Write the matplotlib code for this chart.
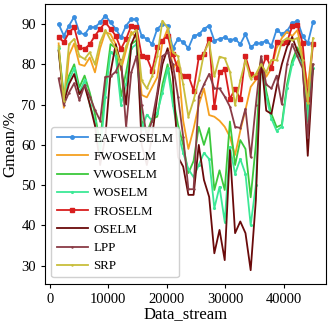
import matplotlib
matplotlib.use("Agg")
import matplotlib.pyplot as plt

plt.rcParams['font.family'] = ['Liberation Serif', 'DejaVu Serif']

x_stream = [1500 + 887 * i for i in range(50)]

eafwoselm = [90, 87.1, 89.6, 91.8, 87.9, 87.4, 89.2, 89.2, 90.4, 92.1,
             90.4, 88.8, 86.7, 89.6, 91.2, 91.2, 87, 86.3, 85, 88.8,
             90, 89.6, 84, 86.3, 85.5, 84, 87.1, 87.4, 88.8, 89.6,
             85.9, 86.3, 86.7, 86, 86.3, 85, 87.5, 84.2, 85.2, 85.2,
             85.9, 84.6, 88.6, 87.5, 88.3, 90.2, 90.8, 87.1, 85.2, 90.4]
fwoselm = [85.2, 69.2, 82.3, 85.2, 80, 79.6, 81.7, 78, 84, 88,
           87.5, 85, 78.6, 83.5, 88.1, 86.5, 72.4, 71.8, 74.3, 76.8,
           85.5, 88.8, 78.8, 80.9, 66, 59, 64, 70, 74, 67.4,
           67, 66, 64.5, 62, 57.5, 63.5, 68.7, 74.4, 76.1, 80.7,
           76.9, 79, 84, 86.5, 88.1, 87, 88.5, 82.3, 74.4, 85.2]
vwoselm = [83.5, 71.8, 77.2, 80, 74.3, 77.2, 73, 67.7, 60, 75,
           85, 84, 72, 78, 85, 86, 66, 63, 66.5, 67,
           75, 80, 72, 65, 60, 53, 56, 64.5, 60, 64.2,
           48.8, 53.7, 48.8, 65.8, 55, 61.2, 59, 47, 60, 81.8,
           73.4, 67.7, 64.4, 65, 75, 80.9, 84.2, 81.3, 67.7, 80]
woselm = [84, 72.5, 76, 79, 73, 76, 70, 66, 58, 72,
          83, 82, 70, 75, 84, 85, 64, 67.5, 66, 68,
          73, 79, 70, 63, 58, 54, 52, 55, 58, 56.5,
          44.3, 49.6, 40.9, 59.5, 52.8, 56.5, 52.8, 40.1, 50, 80,
          72, 66.5, 63.5, 64.5, 74, 80, 83, 80, 66, 79]
froselm = [86.7, 85.5, 87.9, 89.2, 84.2, 83.8, 85.0, 87.1, 88.8, 90.4,
           88.8, 87.1, 83.8, 86.3, 89.6, 89.2, 82.1, 81.7, 78.4, 84.2,
           85.9, 87.1, 82.6, 78.8, 77.1, 77.2, 73.5, 81.7, 82.6, 86.3,
           69.3, 78.0, 78.8, 71.4, 73.9, 71.4, 82.0, 77.6, 76.8, 78.6,
           81.9, 79.0, 85.6, 85.4, 85.6, 89.4, 89.8, 85.3, 71.5, 85.0]
oselm = [83.4, 70.6, 75.1, 77.6, 72.6, 74.7, 70.1, 64.8, 55, 62,
         78, 85, 80, 70, 85, 88, 60, 55, 62, 72,
         80, 84, 77, 57, 54.6, 47.6, 47.6, 60, 51.3, 47.1,
         33.1, 38.9, 31.4, 58.7, 38.1, 41, 38.1, 28.9, 46.3, 81.8,
         68.5, 67.7, 74.4, 80, 84.3, 86.8, 83.3, 80.8, 57.3, 78.8]
lpp = [76.5, 70, 73, 75.3, 71.1, 74.9, 72, 68.7, 66, 76.9,
       77, 78.2, 81.1, 64.4, 78, 82, 70, 62, 66, 73,
       82, 83, 80, 72, 62, 49, 49, 72, 75, 77.6,
       74, 74, 72, 69.5, 64.5, 64.2, 69, 57, 70, 82,
       75, 74, 77.2, 70.1, 80, 85, 82, 79, 62, 80]
srp = [84.5, 71, 85, 86.3, 82.1, 81.3, 83, 80, 85.5, 88.5,
       86, 84, 80, 84.5, 87.5, 88.5, 76, 74, 77, 82,
       90.8, 89, 83, 82, 75, 67, 71.1, 76.1, 82.7, 85.6,
       77, 81.9, 81.5, 78.2, 69.9, 76, 81, 76.4, 77.6, 80,
       78, 81.1, 81, 85.6, 86.5, 86, 86.5, 81, 70.3, 86.5]

series = [
    ("EAFWOSELM", eafwoselm, "#3a8ee0", "o", 2.5),
    ("FWOSELM", fwoselm, "#f5a020", None, 0),
    ("VWOSELM", vwoselm, "#3cc83c", None, 0),
    ("WOSELM", woselm, "#3ce896", ".", 2.5),
    ("FROSELM", froselm, "#d81e1e", "s", 2.5),
    ("OSELM", oselm, "#6a0a0a", None, 0),
    ("LPP", lpp, "#8a3c46", ".", 1.5),
    ("SRP", srp, "#c8be3c", ".", 1.5),
]

fig = plt.figure(figsize=(3.3, 3.23), dpi=100)
ax = fig.add_axes([0.136, 0.121, 0.852, 0.867])
for name, vals, col, mk, ms in series:
    ax.plot(x_stream, vals, color=col, marker=mk, markersize=ms, linewidth=1.3, label=name)

ax.set_ylim(25.5, 95)
ax.set_xlim(-850, 47200)
ax.set_xticks([0, 10000, 20000, 30000, 40000])
ax.set_yticks([30, 40, 50, 60, 70, 80, 90])
ax.tick_params(labelsize=10.5, length=3)
ax.set_xlabel("Data_stream", fontsize=12, labelpad=0)
ax.set_ylabel("Gmean/%", fontsize=12, labelpad=2)
ax.legend(loc="lower left", fontsize=9.3, handlelength=2.4, handletextpad=0.45,
          labelspacing=0.48, borderaxespad=0.5, framealpha=0.92)
fig.savefig("out.png", dpi=100)
